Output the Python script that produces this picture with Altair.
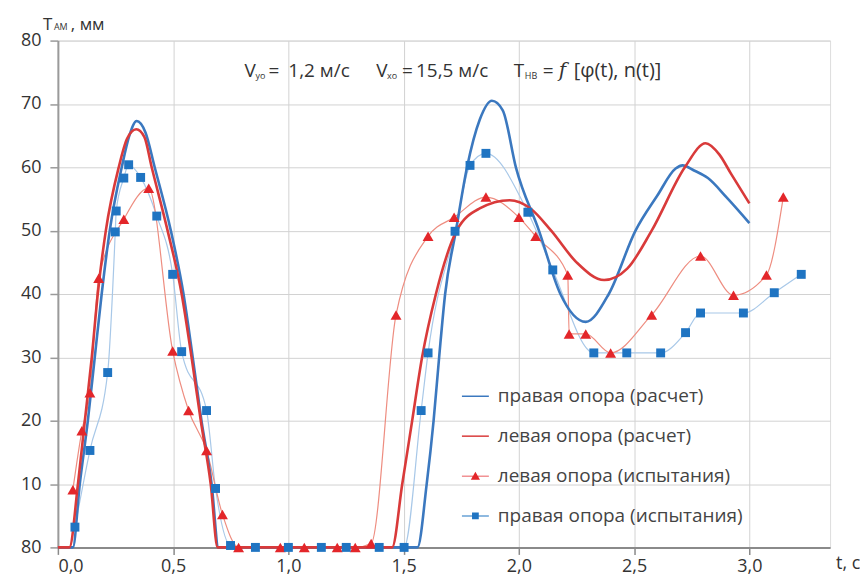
import altair as alt
import pandas as pd

# ---------------- data ----------------
series_names = ["правая опора (расчет)", "левая опора (расчет)",
                "левая опора (испытания)", "правая опора (испытания)"]

calc_right_t = [0, 0.065, 0.095, 0.13, 0.16, 0.19, 0.225, 0.277, 0.31, 0.342, 0.38, 0.42, 0.49,
                0.545, 0.585, 0.623, 0.667, 0.697, 1.56, 1.6, 1.63, 1.654, 1.68, 1.727, 1.775,
                1.83, 1.883, 1.93, 1.987, 2.087, 2.18, 2.29, 2.39, 2.506, 2.6, 2.68, 2.71, 2.76,
                2.82, 2.9, 3.0]
calc_right_v = [0, 0, 10, 20, 30, 40, 50, 60, 65, 67.3, 65.5, 60, 50,
                40, 30, 20, 10, 0, 0, 10, 20, 30, 40, 50, 60,
                67.5, 70.5, 69, 60, 50, 40, 35.6, 40, 50, 55.5, 59.8, 60.3, 59.5,
                58.3, 55.3, 51.2]

calc_left_t = [0, 0.05, 0.087, 0.117, 0.147, 0.173, 0.208, 0.264, 0.3, 0.34, 0.375, 0.407, 0.476,
               0.537, 0.58, 0.62, 0.663, 0.693, 1.45, 1.494, 1.537, 1.58, 1.64, 1.73, 1.83,
               1.96, 2.05, 2.14, 2.25, 2.37, 2.47, 2.576, 2.72, 2.81, 2.87, 2.92, 3.0]
calc_left_v = [0, 0, 10, 20, 30, 40, 50, 60, 64.5, 66, 64.8, 60, 50,
               40, 30, 20, 10, 0, 0, 10, 20, 30, 40, 50, 53.5,
               54.8, 53.5, 50, 45, 42.2, 44, 50, 60, 63.8, 62, 59, 54.3]

test_left_t = [0.065, 0.104, 0.139, 0.177, 0.286, 0.394, 0.498, 0.567, 0.645, 0.714, 0.784,
               0.965, 1.069, 1.212, 1.29, 1.359, 1.467, 1.606, 1.719, 1.857, 2.0, 2.073,
               2.212, 2.218, 2.29, 2.398, 2.576, 2.788, 2.931, 3.074, 3.147]
test_left_v = [9.1, 18.4, 24.4, 42.5, 51.8, 56.7, 31.0, 21.6, 15.3, 5.2, 0,
               0, 0, 0, 0, 0.6, 36.7, 49.1, 52.1, 55.3, 52.1, 49.1,
               43.0, 33.7, 33.7, 30.7, 36.7, 46.0, 39.8, 43.0, 55.3]

test_right_t = [0.074, 0.139, 0.216, 0.249, 0.253, 0.286, 0.307, 0.359, 0.429, 0.498, 0.537,
                0.645, 0.684, 0.749, 0.857, 1.0, 1.143, 1.251, 1.394, 1.502, 1.576, 1.606,
                1.723, 1.788, 1.857, 2.039, 2.147, 2.325, 2.468, 2.615, 2.723, 2.788, 2.974,
                3.108, 3.225]
test_right_v = [3.2, 15.3, 27.6, 49.8, 53.1, 58.3, 60.4, 58.4, 52.3, 43.1, 30.9,
                21.6, 9.3, 0.3, 0, 0, 0, 0, 0, 0, 21.6, 30.7,
                49.9, 60.3, 62.2, 52.9, 43.8, 30.7, 30.7, 30.7, 33.9, 37.0, 37.0,
                40.2, 43.1]

x_ticks = [0, 0.5, 1.0, 1.5, 2.0, 2.5, 3.0]
y_ticks = [0, 10, 20, 30, 40, 50, 60, 70, 80]

# ---------------- styling ----------------
FONT = "Open Sans"
C_CALC_R = "#3b78bf"
C_CALC_L = "#d93a3a"
C_TEST_L_LINE = "#ee8d80"
C_TEST_L_MARK = "#e3262a"
C_TEST_R_LINE = "#a8c8e8"
C_TEST_R_MARK = "#1f74c2"

df_cr = pd.DataFrame({"t": calc_right_t, "v": calc_right_v})
df_cl = pd.DataFrame({"t": calc_left_t, "v": calc_left_v})
df_tl = pd.DataFrame({"t": test_left_t, "v": test_left_v})
df_tr = pd.DataFrame({"t": test_right_t, "v": test_right_v})
df_leg = pd.DataFrame({"series": series_names, "t": [0.0] * 4, "v": [0.0] * 4})

X = alt.X("t:Q", scale=alt.Scale(domain=[0, 3.35], nice=False, zero=False),
          axis=alt.Axis(values=x_ticks, format=".1f",
                        labelExpr="replace(datum.label, '.', ',')",
                        title=None, grid=True, gridColor="#d2d2d2", gridWidth=1,
                        domainColor="#8a8a8a", domainWidth=2,
                        tickColor="#8a8a8a", tickSize=7, tickWidth=1.5,
                        labelFont=FONT, labelFontSize=18, labelColor="#333333",
                        labelPadding=3))
Y = alt.Y("v:Q", scale=alt.Scale(domain=[0, 80], nice=False),
          axis=alt.Axis(values=y_ticks,
                        labelExpr="datum.value == 0 ? '80' : datum.label",
                        title=None, grid=True, gridColor="#d2d2d2", gridWidth=1,
                        domainColor="#9a9a9a", domainWidth=2,
                        tickColor="#9a9a9a", tickSize=8, tickWidth=1.5,
                        labelFont=FONT, labelFontSize=18, labelColor="#333333",
                        labelPadding=9))

line_cr = alt.Chart(df_cr).mark_line(color=C_CALC_R, strokeWidth=2.6,
                                     interpolate="monotone").encode(x=X, y=Y)
line_cl = alt.Chart(df_cl).mark_line(color=C_CALC_L, strokeWidth=2.6,
                                     interpolate="monotone").encode(x=X, y=Y)
line_tl = alt.Chart(df_tl).mark_line(color=C_TEST_L_LINE, strokeWidth=1.2,
                                     interpolate="monotone").encode(x=X, y=Y)
line_tr = alt.Chart(df_tr).mark_line(color=C_TEST_R_LINE, strokeWidth=1.2,
                                     interpolate="monotone").encode(x=X, y=Y)
pts_tl = alt.Chart(df_tl).mark_point(filled=True, shape="triangle-up", size=120,
                                     color=C_TEST_L_MARK, opacity=1).encode(x=X, y=Y)
pts_tr = alt.Chart(df_tr).mark_point(filled=True, shape="square", size=80,
                                     color=C_TEST_R_MARK, opacity=1).encode(x=X, y=Y)

bar = "M-1,-0.055L1,-0.055L1,0.055L-1,0.055Z"
thin = "M-1,-0.03L1,-0.03L1,0.03L-1,0.03Z"
tri = thin + " M-0.34,0.27L0,-0.32L0.34,0.27Z"
sq = thin + " M-0.25,-0.25L0.25,-0.25L0.25,0.25L-0.25,0.25Z"

legend_layer = alt.Chart(df_leg).mark_point(filled=True, opacity=0).encode(
    x=X, y=Y,
    color=alt.Color("series:N",
                    scale=alt.Scale(domain=series_names,
                                    range=[C_CALC_R, C_CALC_L, C_TEST_L_MARK, C_TEST_R_MARK]),
                    legend=alt.Legend(orient="none", legendX=405, legendY=343, title=None,
                                      labelFont=FONT, labelFontSize=19, labelColor="#444444",
                                      labelLimit=400,
                                      symbolSize=729, symbolOpacity=1, symbolStrokeWidth=0,
                                      rowPadding=16, labelOffset=9, padding=0)),
    shape=alt.Shape("series:N",
                    scale=alt.Scale(domain=series_names, range=[bar, bar, tri, sq]),
                    legend=None),
)

one = pd.DataFrame({"k": [0]})


def txt(s, px, py, size=19, style="normal", font=FONT, color="#333333"):
    return alt.Chart(one).mark_text(text=s, align="left", baseline="alphabetic",
                                    font=font, fontSize=size, fontStyle=style,
                                    color=color).encode(x=alt.value(px), y=alt.value(py))


notes = [
    txt("T", -15, -11, 17), txt("АМ", -4, -11, 9), txt(", мм", 13, -11, 17),
    txt("V", 187, 36), txt("yo", 198, 38, 9), txt("=", 211, 36), txt("1,2 м/с", 231, 36),
    txt("V", 319, 36), txt("xo", 330, 38, 9), txt("=", 345, 36), txt("15,5 м/с", 359, 36),
    txt("T", 457, 36), txt("НВ", 468, 38, 9), txt("=", 486, 36),
    txt("f", 502, 36, 20, "italic", "DejaVu Serif"),
    txt("[φ(t), n(t)]", 517, 36, 20),
    txt("t, c", 780, 530, 18),
]

chart = alt.layer(line_tr, line_tl, line_cr, line_cl, pts_tl, pts_tr, legend_layer,
                  *notes).properties(
    width=774, height=508,
    autosize=alt.AutoSizeParams(type="none"),
    padding={"left": 50, "top": 32, "right": 30, "bottom": 28},
).configure_view(stroke=None).configure(background="white")

chart.save("out.html", embed_options={"renderer": "svg", "actions": False})
